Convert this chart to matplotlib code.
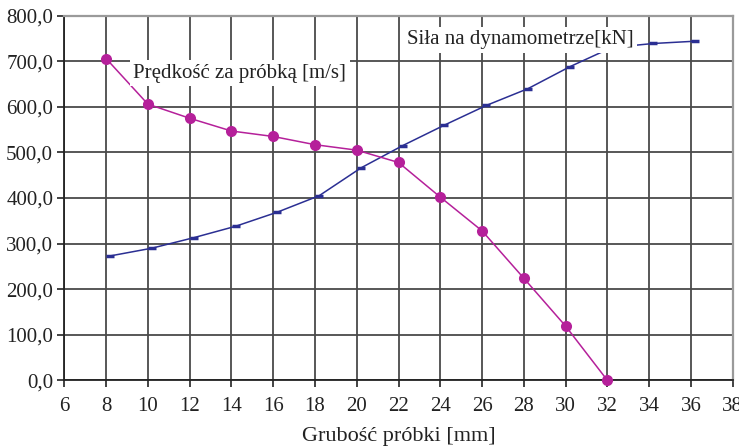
import matplotlib
matplotlib.use("Agg")
import matplotlib.pyplot as plt

x_speed = [8, 10, 12, 14, 16, 18, 20, 22, 24, 26, 28, 30, 32]
speed = [706, 606, 575, 547, 535, 517, 505, 478, 402, 328, 224, 119, 0]

x_force = [8.2, 10.2, 12.2, 14.2, 16.2, 18.2, 20.2, 22.2, 24.2, 26.2, 28.2, 30.2, 32.2, 34.2, 36.2]
force = [273, 290, 313, 338, 369, 405, 466, 515, 560, 603, 640, 688, 730, 739, 744]

x_ticks = list(range(6, 39, 2))
y_ticks = list(range(0, 801, 100))
y_ticklabels = [f"{v},0" for v in y_ticks]

label_speed = "Prędkość za próbką [m/s]"
label_force = "Siła na dynamometrze[kN]"
xlabel = "Grubość próbki [mm]"

plt.rcParams['font.family'] = ['Liberation Serif', 'DejaVu Serif']

fig = plt.figure(figsize=(7.39, 4.48), dpi=100)
ax = fig.add_axes([0.087, 0.151, 0.9045, 0.814])

ax.set_xlim(6, 38)
ax.set_ylim(0, 800)
ax.set_xticks(x_ticks)
ax.set_yticks(y_ticks)
ax.set_yticklabels(y_ticklabels)
ax.tick_params(axis='both', labelsize=15, direction='out', length=5, width=1.2, color='#222222')
ax.tick_params(axis='x', pad=7)
ax.tick_params(axis='y', pad=3)
ax.grid(True, color='#4a4a4a', linewidth=1.3)
ax.set_axisbelow(True)
for s in ['top', 'right']:
    ax.spines[s].set_color('#9a9a9a')
    ax.spines[s].set_linewidth(1.6)
for s in ['left', 'bottom']:
    ax.spines[s].set_color('#222222')
    ax.spines[s].set_linewidth(1.3)

ax.plot(x_force, force, color='#2b2f93', linewidth=1.1, marker='_', markersize=6, markeredgewidth=2.5, zorder=3)
ax.plot(x_speed, speed, color='#b5209a', linewidth=1.1, marker='o', markersize=8, markeredgewidth=0, zorder=4,
        clip_on=False)

ax.text(9.3, 674, label_speed, fontsize=15, va='center', ha='left', color='#222222', zorder=5,
        bbox=dict(facecolor='white', edgecolor='none', pad=2.5))
ax.text(22.4, 747, label_force, fontsize=15, va='center', ha='left', color='#222222', zorder=5,
        bbox=dict(facecolor='white', edgecolor='none', pad=2.5))

ax.set_xlabel(xlabel, fontsize=16, color='#222222', labelpad=8)
for lab in ax.get_xticklabels() + ax.get_yticklabels():
    lab.set_color('#222222')

fig.savefig("out.png", dpi=100)
